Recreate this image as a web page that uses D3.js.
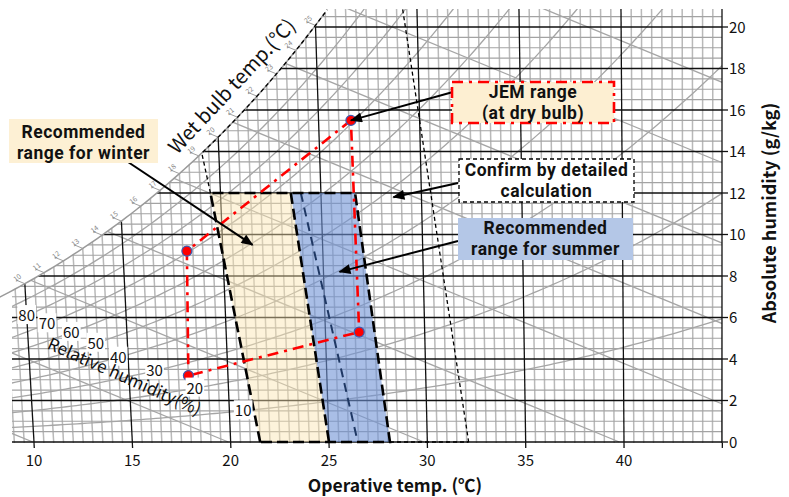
<!DOCTYPE html>
<html><head><meta charset="utf-8">
<script src="https://cdn.jsdelivr.net/npm/d3@7"></script>
<style>
body{margin:0;background:#fff;}
svg{display:block;font-family:"Noto Sans CJK JP","Noto Sans",sans-serif;}
</style></head><body>
<svg id="chart" width="789" height="497"></svg>
<script>
// ---------- data ----------
const tempTicks = [10, 15, 20, 25, 30, 35, 40];
const majorIsotherms = [10, 15, 20, 25, 30, 35, 40, 45];
const humidityTicks = [0, 2, 4, 6, 8, 10, 12, 14, 16, 18, 20];
const rhLevels = [10, 20, 30, 40, 50, 60, 70, 80, 90];
const rhLabelValues = [10, 20, 30, 40, 50, 60, 70, 80];
const rhLabelTemps = [20.7, 18.3, 16.3, 14.5, 13.4, 12.2, 11.0, 10.0];
const enthalpyLevels = [10, 20, 30, 40, 50, 60, 70, 80, 90, 100, 110, 120, 130];
const wetBulbTicks = [10, 11, 12, 13, 14, 15, 16, 17, 18, 19, 20, 21, 22, 23, 24, 25];

// regions as [dry-bulb temp (°C), absolute humidity (g/kg)]
const winterRange = [[19.5, 12], [23.5, 12], [25.0, 0], [21.5, 0]];
const summerRange = [[23.5, 12], [26.7, 12], [28.1, 0], [25.0, 0]];
const summerInner = [[24.0, 12], [26.4, 0.3]];
const jemRange = [[26.6, 15.5], [18.2, 9.2], [18.0, 3.2], [26.7, 5.3]];
const confirmLeft = [[19.5, 12], [19.15, 13.95]];
const confirmRight = [[29.3, 20.85], [32.1, 0]];
const confirmBottom = [[28.1, 0], [32.1, 0]];
const confirmSatFrom = 13.95;   // humidity where the dashed saturation edge starts

const arrowTips = {winter: [21.5, 9.5], jem: [26.6, 15.5], confirm: [28.6, 11.8], summer: [25.8, 8.2]};

// ---------- psychrometrics ----------
const P = 101.325;
function pws(t) { return 0.61121 * Math.exp((18.678 - t / 234.5) * (t / (257.14 + t))); }
function wAt(t, phi) { const p = phi * pws(t); return 622 * p / (P - p); }
// oblique enthalpy–humidity coordinate
function u(t, w) { return 1.006 * t + (0.001805 * t - 0.0796) * w; }

// ---------- layout ----------
const svg = d3.select("#chart");
const W = 789, H = 497;
const plot = {left: 12, right: 722, top: 9, bottom: 443};

const xScale = d3.scaleLinear().domain([u(10, 0), u(40, 0)]).range([34, 624]);
const yScale = d3.scaleLinear().domain([0, 20]).range([442, 27]);
const X = (t, w) => xScale(u(t, w));
const Y = w => yScale(w);
const line = d3.line().x(d => X(d[0], d[1])).y(d => Y(d[1]));
const lineU = d3.line().x(d => xScale(d[0])).y(d => Y(d[1]));   // points given as [u, w]

const defs = svg.append("defs");
defs.append("clipPath").attr("id", "rectClip").append("rect")
  .attr("x", plot.left).attr("y", plot.top)
  .attr("width", plot.right - plot.left).attr("height", plot.bottom - plot.top);

// area under the saturation curve
const satPts = d3.range(-10, 27.01, 0.25).map(t => [X(t, wAt(t, 1)), Y(wAt(t, 1))]);
const last = satPts[satPts.length - 1];
const clipPoly = satPts.concat([[900, last[1]], [900, 600], [-400, 600], [-400, satPts[0][1]]]);
defs.append("clipPath").attr("id", "satClip").append("path")
  .attr("d", "M" + clipPoly.map(p => p.join(",")).join("L") + "Z");

defs.append("marker").attr("id", "arrow").attr("viewBox", "0 0 12 10")
  .attr("refX", 11).attr("refY", 5).attr("markerWidth", 13).attr("markerHeight", 10)
  .attr("markerUnits", "userSpaceOnUse").attr("orient", "auto")
  .append("path").attr("d", "M0,0 L12,5 L0,10 Z").attr("fill", "#000");

const gridOuter = svg.append("g").attr("clip-path", "url(#rectClip)");
const grid = gridOuter.append("g").attr("clip-path", "url(#satClip)");

// fine isotherms every 0.5 °C
d3.range(8, 46.01, 0.5).filter(t => t % 5 !== 0).forEach(t => {
  grid.append("path").attr("d", line([[t, -1], [t, 23]]))
    .attr("stroke", "#b9b9b9").attr("stroke-width", 1.5).attr("fill", "none");
});
// fine humidity lines every 0.5 g/kg
d3.range(0, 21.01, 0.5).filter(w => w % 2 !== 0).forEach(w => {
  grid.append("line").attr("x1", 0).attr("x2", W).attr("y1", Y(w)).attr("y2", Y(w))
    .attr("stroke", "#a3a3a3").attr("stroke-width", 1.1);
});
// enthalpy lines
enthalpyLevels.forEach(h => {
  grid.append("path").attr("d", lineU([[h, 0], [h - 2.5806 * 24, 24]]))
    .attr("stroke", "#a5a5a5").attr("stroke-width", 1.3).attr("fill", "none");
});
// relative humidity curves
rhLevels.forEach(r => {
  const pts = d3.range(-5, 50.01, 0.25).map(t => [t, wAt(t, r / 100)]).filter(d => d[1] < 24);
  grid.append("path").attr("d", line(pts))
    .attr("stroke", "#a5a5a5").attr("stroke-width", 1.3).attr("fill", "none");
});
// major isotherms and humidity lines
majorIsotherms.forEach(t => {
  grid.append("path").attr("d", line([[t, -1], [t, 23]]))
    .attr("stroke", "#111").attr("stroke-width", 1.3).attr("fill", "none");
});
humidityTicks.forEach(w => {
  grid.append("line").attr("x1", 0).attr("x2", W).attr("y1", Y(w)).attr("y2", Y(w))
    .attr("stroke", "#111").attr("stroke-width", 1.3);
});

// saturation curve
const satLine = d3.range(8.5, 27.01, 0.25).map(t => [t, wAt(t, 1)]).filter(d => Y(d[1]) >= plot.top);
svg.append("path").attr("d", line(satLine)).attr("stroke", "#9a9a9a")
  .attr("stroke-width", 1.5).attr("fill", "none");

// wet-bulb ticks along the saturation curve
wetBulbTicks.forEach(tw => {
  const ws = wAt(tw, 1);
  const px = X(tw, ws), py = Y(ws);
  svg.append("line").attr("x1", px).attr("y1", py).attr("x2", px - 9).attr("y2", py - 3.7)
    .attr("stroke", "#a0a0a0").attr("stroke-width", 1);
  svg.append("text").attr("transform", `translate(${px - 6},${py - 4}) rotate(-38)`)
    .attr("font-size", 7).attr("fill", "#888").attr("text-anchor", "middle").text(tw);
});

// axis ticks outside the plot
tempTicks.concat([45]).forEach(t => {
  svg.append("line").attr("x1", X(t, 0)).attr("x2", X(t, -0.25)).attr("y1", plot.bottom).attr("y2", plot.bottom + 5)
    .attr("stroke", "#111").attr("stroke-width", 1.3);
});
humidityTicks.forEach(w => {
  svg.append("line").attr("x1", plot.right).attr("x2", plot.right + 6).attr("y1", Y(w)).attr("y2", Y(w))
    .attr("stroke", "#111").attr("stroke-width", 1.3);
});
svg.append("line").attr("x1", plot.right).attr("x2", plot.right).attr("y1", plot.top).attr("y2", plot.bottom)
  .attr("stroke", "#111").attr("stroke-width", 1.3);

// ---------- comfort regions ----------
const poly = pts => line(pts.concat([pts[0]]));
svg.append("path").attr("d", poly(winterRange)).attr("fill", "#fbe5b0").attr("fill-opacity", 0.45);
svg.append("path").attr("d", poly(summerRange)).attr("fill", "#6f93d6").attr("fill-opacity", 0.6);

// thin dashed "detailed calculation" boundary
const thin = {stroke: "#000", "stroke-width": 1.3, "stroke-dasharray": "4,3", fill: "none"};
const applyAttrs = (sel, a) => { Object.entries(a).forEach(([k, v]) => sel.attr(k, v)); return sel; };
applyAttrs(svg.append("path").attr("d", line(confirmLeft)), thin);
applyAttrs(svg.append("path").attr("d", line(confirmRight)), thin);
applyAttrs(svg.append("path").attr("d", line(confirmBottom)), thin);
const satEdge = d3.range(15, 27.01, 0.1).map(t => [t, wAt(t, 1)])
  .filter(d => d[1] >= confirmSatFrom && Y(d[1]) >= plot.top - 1);
applyAttrs(svg.append("path").attr("d", line(satEdge)), thin);

// inner summer line
svg.append("path").attr("d", line(summerInner)).attr("stroke", "#1f3864").attr("stroke-width", 2)
  .attr("stroke-dasharray", "9,6").attr("fill", "none");

// thick dashed outline of recommended ranges
const thick = {stroke: "#000", "stroke-width": 2.6, "stroke-dasharray": "11,5", fill: "none"};
applyAttrs(svg.append("path").attr("d", line([winterRange[3], winterRange[0], summerRange[1], summerRange[2], winterRange[3]])), thick);
applyAttrs(svg.append("path").attr("d", line([summerRange[0], summerRange[3]])), thick);

// JEM range
svg.append("path").attr("d", poly(jemRange)).attr("stroke", "#ff0000").attr("stroke-width", 2.6)
  .attr("stroke-dasharray", "11,6,3,6").attr("fill", "none");
svg.selectAll("circle.jem").data(jemRange).join("circle").attr("class", "jem")
  .attr("cx", d => X(d[0], d[1])).attr("cy", d => Y(d[1])).attr("r", 5)
  .attr("fill", "#ff0000").attr("stroke", "#3b5cb5").attr("stroke-width", 1.2);

// ---------- relative humidity labels ----------
rhLabelValues.forEach((r, i) => {
  const t = rhLabelTemps[i], w = wAt(t, r / 100);
  const g = svg.append("g").attr("transform", `translate(${X(t, w)},${Y(w)})`);
  const tx = g.append("text").attr("text-anchor", "middle").attr("dy", "0.36em")
    .attr("font-size", 15).attr("fill", "#111").text(r);
  const bb = tx.node().getBBox();
  g.insert("rect", "text").attr("x", bb.x - 1).attr("y", bb.y + 1).attr("width", bb.width + 2)
    .attr("height", bb.height - 2).attr("fill", "#fff");
});

// ---------- arrows ----------
const arrow = (x1, y1, tip) => svg.append("line").attr("x1", x1).attr("y1", y1)
  .attr("x2", X(tip[0], tip[1])).attr("y2", Y(tip[1]))
  .attr("stroke", "#000").attr("stroke-width", 2).attr("marker-end", "url(#arrow)");
arrow(122, 158, arrowTips.winter);
arrow(453, 92, arrowTips.jem);
arrow(458, 183, arrowTips.confirm);
arrow(458, 241, arrowTips.summer);

// ---------- annotation boxes ----------
function box(x, y, w, h, fill, lines, baselines, border) {
  const g = svg.append("g");
  const r = g.append("rect").attr("x", x).attr("y", y).attr("width", w).attr("height", h).attr("fill", fill);
  if (border) applyAttrs(r, border);
  lines.forEach((s, i) => g.append("text").attr("x", x + w / 2).attr("y", baselines[i])
    .attr("text-anchor", "middle").attr("font-family", "Roboto, 'Noto Sans', sans-serif")
    .attr("font-size", 17.5).attr("font-weight", "bold").attr("letter-spacing", 0.5)
    .attr("fill", "#111").text(s));
}
box(9, 119, 149, 44, "#fdf0d4", ["Recommended", "range for winter"], [138, 159]);
box(452, 82, 162, 41, "#fdefd2", ["JEM range", "(at dry bulb)"], [98, 119],
  {stroke: "#ff0000", "stroke-width": 2.6, "stroke-dasharray": "11,6,3,6"});
box(459, 159, 175, 43, "#fff", ["Confirm by detailed", "calculation"], [176, 197],
  {stroke: "#000", "stroke-width": 1.3, "stroke-dasharray": "4,3"});
box(458, 218, 175, 42, "#b4c7e7", ["Recommended", "range for summer"], [234, 255]);

// ---------- axis labels ----------
tempTicks.forEach(t => svg.append("text").attr("x", X(t, 0)).attr("y", 466)
  .attr("text-anchor", "middle").attr("font-size", 15).attr("fill", "#111").text(t));
humidityTicks.forEach(w => svg.append("text").attr("x", 729).attr("y", Y(w) + 5.5)
  .attr("font-size", 15).attr("fill", "#111").text(w));
svg.append("text").attr("x", 395).attr("y", 491.5).attr("text-anchor", "middle")
  .attr("font-size", 17.5).attr("font-weight", "bold").attr("fill", "#111").text("Operative temp. (℃)");
svg.append("text").attr("transform", "translate(776,213) rotate(-90)").attr("text-anchor", "middle")
  .attr("font-size", 18).attr("font-weight", "bold").attr("fill", "#111").text("Absolute humidity (g/kg)");
svg.append("text").attr("transform", "translate(237,91) rotate(-47)").attr("text-anchor", "middle")
  .attr("font-size", 20).attr("fill", "#111").text("Wet bulb temp.(℃)");
svg.append("text").attr("transform", "translate(122,382) rotate(24)").attr("text-anchor", "middle")
  .attr("font-size", 17).attr("fill", "#111").text("Relative humidity(%)");
</script>
</body></html>
